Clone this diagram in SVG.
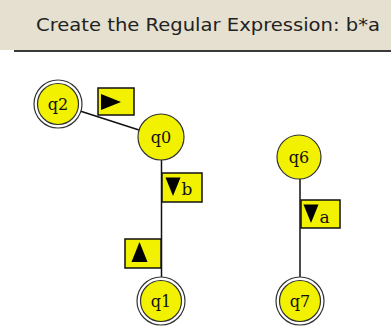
<svg xmlns="http://www.w3.org/2000/svg" width="391" height="331" viewBox="0 0 391 331">
<style>
.node{fill:#f2f200;stroke:#333;stroke-width:1.2}
.ring{fill:#fff;stroke:#333;stroke-width:1.2}
.lbl{font-family:"DejaVu Serif","Liberation Serif",serif;font-size:16px;fill:#111;text-anchor:middle}
.edge{stroke:#111;stroke-width:1.5;fill:none}
.box{fill:#f2f200;stroke:#111;stroke-width:1.5}
.tri{fill:#000}
.etext{font-family:"DejaVu Serif","Liberation Serif",serif;font-size:17px;fill:#111}
</style>
<g id="header">
<rect x="0" y="0" width="391" height="50" fill="#e5e0cf"/>
<line x1="14" y1="51" x2="391" y2="51" stroke="#3a3a3a" stroke-width="2"/>
<text x="36" y="31" font-family="DejaVu Sans, Verdana, sans-serif" font-size="18" fill="#222" textLength="344" lengthAdjust="spacingAndGlyphs">Create the Regular Expression: b*a</text>
</g>
<g id="connectors">
<line class="edge" x1="80" y1="111" x2="139" y2="130"/>
<line class="edge" x1="161.5" y1="160" x2="161.5" y2="277"/>
<line class="edge" x1="300" y1="179" x2="300" y2="277"/>
<g id="label-q2-q0">
<rect class="box" x="98" y="88" width="36" height="27"/>
<polygon class="tri" points="101,94 121,102 101,110"/>
</g>
<g id="label-q0-q1">
<rect class="box" x="162" y="173" width="40" height="29"/>
<polygon class="tri" points="165.5,177.5 180.5,177.5 173,196"/>
<text class="etext" x="181.5" y="195">b</text>
</g>
<g id="label-q1-q0">
<rect class="box" x="125" y="239" width="36" height="29"/>
<polygon class="tri" points="131.5,262 147.5,262 139.5,242"/>
</g>
<g id="label-q6-q7">
<rect class="box" x="301" y="200" width="39" height="28"/>
<polygon class="tri" points="303.5,204.5 318.5,204.5 311,223"/>
<text class="etext" x="319.5" y="223">a</text>
</g>
</g>
<g id="q2">
<circle class="ring" cx="58" cy="104" r="24"/>
<circle class="node" cx="58" cy="104" r="20.5"/>
<text class="lbl" x="58" y="109.5">q2</text>
</g>
<g id="q0">
<circle class="node" cx="161" cy="137" r="23"/>
<text class="lbl" x="161" y="142.5">q0</text>
</g>
<g id="q1">
<circle class="ring" cx="161" cy="301" r="24"/>
<circle class="node" cx="161" cy="301" r="20.5"/>
<text class="lbl" x="161" y="306.5">q1</text>
</g>
<g id="q6">
<circle class="node" cx="299" cy="157" r="22"/>
<text class="lbl" x="299" y="162.5">q6</text>
</g>
<g id="q7">
<circle class="ring" cx="300" cy="301" r="24"/>
<circle class="node" cx="300" cy="301" r="20.5"/>
<text class="lbl" x="300" y="306.5">q7</text>
</g>
</svg>
